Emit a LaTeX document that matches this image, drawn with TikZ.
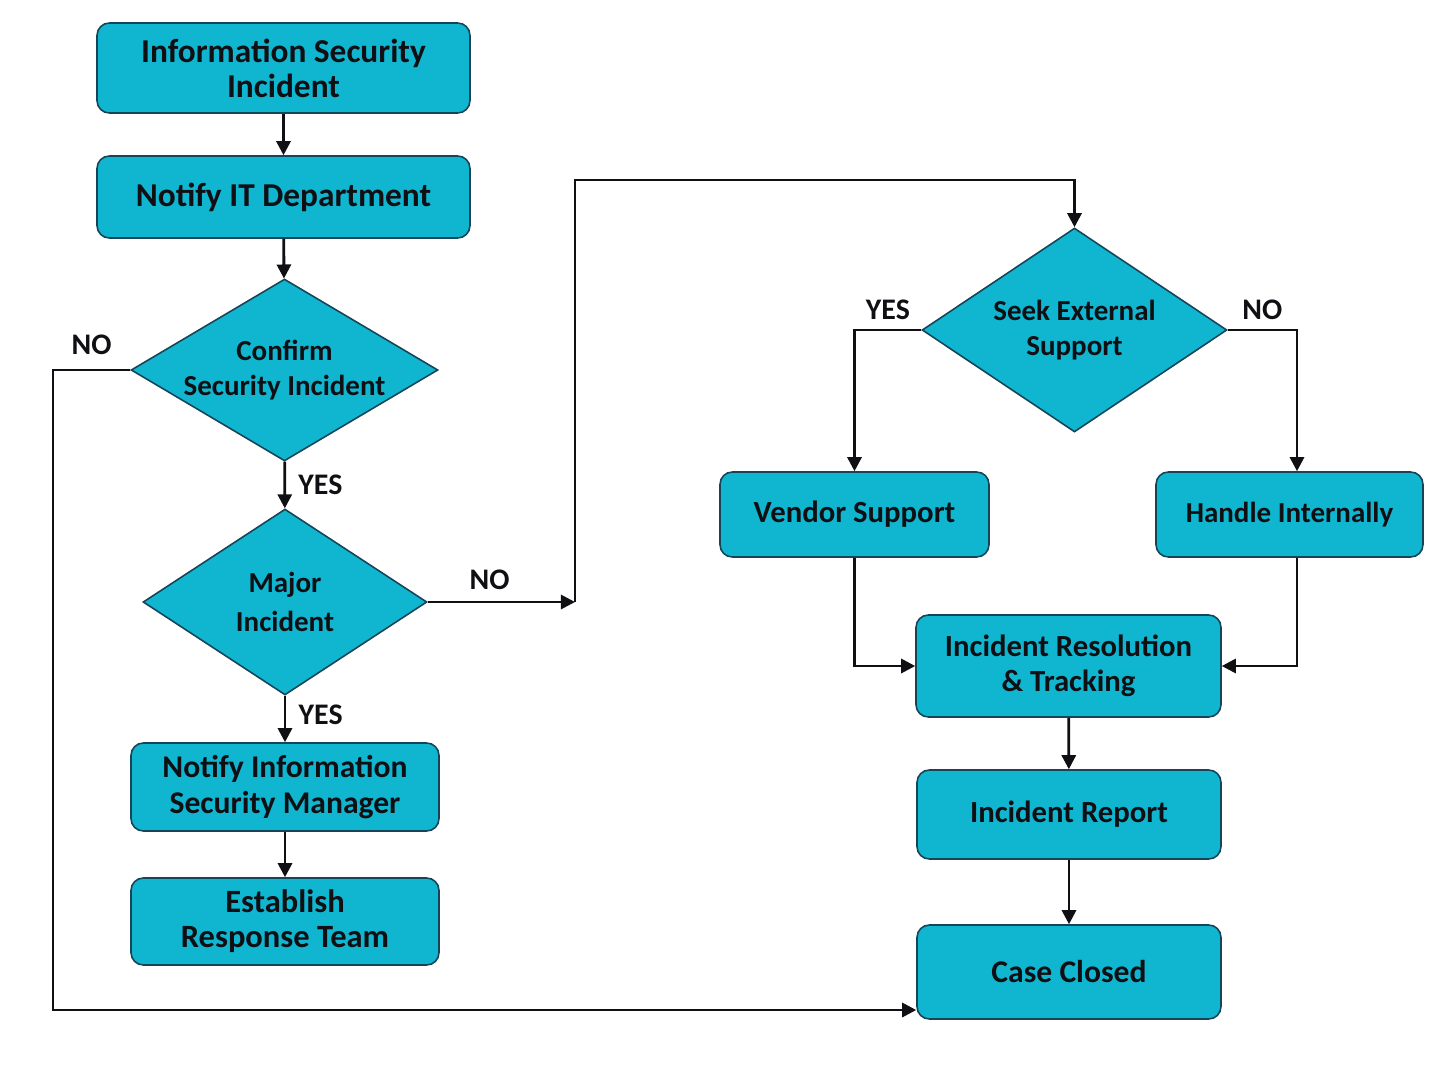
\documentclass[tikz,border=0pt]{standalone}
\usepackage{fontspec}
\setmainfont{Carlito}
\usetikzlibrary{shapes.geometric,arrows.meta,calc}

\begin{document}
\begin{tikzpicture}[x=0.02cm, y=-0.02cm,
  box/.style={draw=boxedge, fill=boxfill, line width=0.9pt, rounded corners=7pt,
    align=center, text=ink, inner sep=0pt,
    font=\fontsize{17.5}{20}\selectfont\bfseries},
  bigtext/.style={font=\fontsize{#1}{20}\selectfont\bfseries},
  decision/.style={diamond, draw=boxedge, fill=boxfill, line width=0.9pt,
    align=center, text=ink, inner sep=0pt,
    font=\fontsize{16.5}{20}\selectfont\bfseries},
  flow/.style={line width=1.6pt, draw=ink, -{Triangle[length=8pt,width=8pt]}},
  answer/.style={text=ink, inner sep=0pt, font=\fontsize{17}{18}\selectfont\bfseries}]
  % colors close to the figure
  \definecolor{boxfill}{RGB}{16,182,207}
  \definecolor{boxedge}{RGB}{22,68,88}
  \definecolor{ink}{RGB}{15,15,20}

  \useasboundingbox (0,0) rectangle (1448,1086);

  % left column
  \node[box, bigtext=19, minimum width=7.46cm, minimum height=1.8cm] (incident) at (283.5,68)
    {Information Security\\Incident};
  \node[box, bigtext=19, minimum width=7.46cm, minimum height=1.64cm] (notifyit) at (283.5,197)
    {Notify IT Department};
  \node[decision, minimum width=6.14cm, minimum height=3.64cm, shape aspect=1.69] (confirm) at (284.5,370)
    {Confirm\\Security Incident};
  \node[decision, font=\fontsize{16.5}{22}\selectfont\bfseries,
    minimum width=5.68cm, minimum height=3.72cm, shape aspect=1.53] (major) at (285,602)
    {Major\\Incident};
  \node[box, bigtext=18, minimum width=6.16cm, minimum height=1.76cm] (notifyism) at (285,787)
    {Notify Information\\Security Manager};
  \node[box, bigtext=18.5, minimum width=6.16cm, minimum height=1.74cm] (establish) at (285,921.5)
    {Establish\\Response Team};

  % right column
  \node[decision, minimum width=6.1cm, minimum height=4.08cm, shape aspect=1.5] (seek) at (1074.5,330)
    {Seek External\\Support};
  \node[box, minimum width=5.38cm, minimum height=1.7cm] (vendor) at (854.5,514.5)
    {Vendor Support};
  \node[box, bigtext=16.5, minimum width=5.34cm, minimum height=1.7cm] (handle) at (1289.5,514.5)
    {Handle Internally};
  \node[box, minimum width=6.1cm, minimum height=2.04cm] (resolution) at (1068.5,666)
    {Incident Resolution\\\& Tracking};
  \node[box, minimum width=6.08cm, minimum height=1.78cm] (report) at (1069,814.5)
    {Incident Report};
  \node[box, bigtext=18, minimum width=6.08cm, minimum height=1.88cm] (closed) at (1069,972)
    {Case Closed};

  % bends
  \coordinate (jump) at (575,602);
  \coordinate (loop) at (53,1010);

  % left flow
  \draw[flow] (incident) -- (notifyit);
  \draw[flow] (notifyit) -- (confirm);
  \draw[flow] (confirm) -- node[answer, right=7pt] {YES} (major);
  \draw[flow] (major) -- node[answer, right=7pt, pos=0.4] {YES} (notifyism);
  \draw[flow] (notifyism) -- (establish);

  % not an incident: straight to closing
  \draw[flow] (confirm.west) -- node[answer, above=8pt] {NO} (confirm.west -| loop)
    -- (loop) -- (loop -| closed.west);

  % minor incident
  \draw[flow] (major.east) -- node[answer, above=6pt, pos=0.42] {NO} (jump);
  \draw[flow] (jump) -- ++(0,-422) -| (seek.north);

  % external support or not
  \draw[flow] (seek.west) -- node[answer, above=5pt] {YES} (seek.west -| vendor.north) -- (vendor.north);
  \draw[flow] (seek.east) -- node[answer, above=5pt] {NO} (seek.east -| {$(handle.north)+(7.5,0)$})
    -- ($(handle.north)+(7.5,0)$);
  \draw[flow] (vendor.south) |- (resolution.west);
  \draw[flow] ($(handle.south)+(7.5,0)$) |- (resolution.east);
  \draw[flow] (resolution) -- (report);
  \draw[flow] (report) -- (closed);
\end{tikzpicture}
\end{document}
